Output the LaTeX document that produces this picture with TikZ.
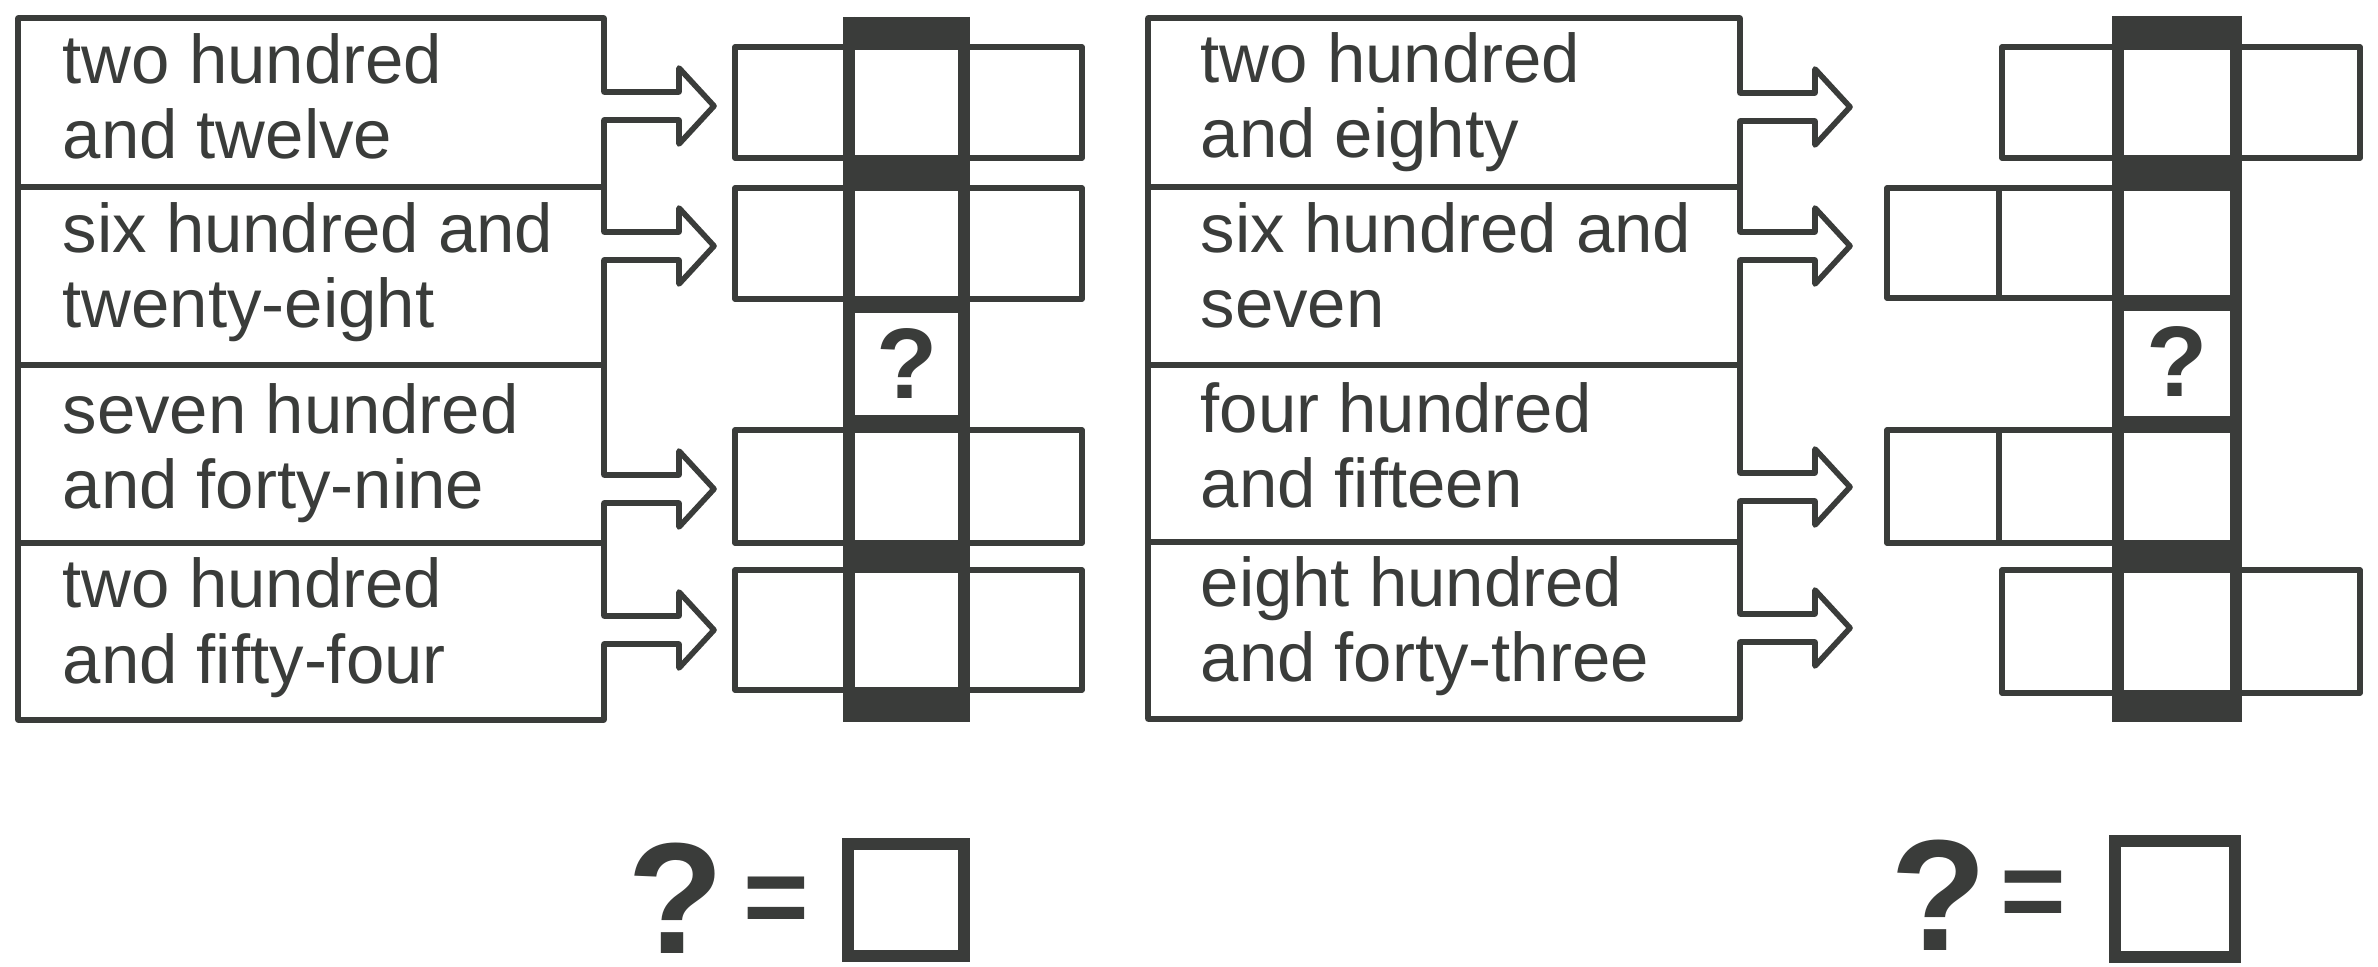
\documentclass[tikz,border=0pt]{standalone}
\usepackage{fontspec}
\setmainfont{Liberation Sans}
\usetikzlibrary{calc}
\definecolor{ink}{RGB}{58,60,58}
\begin{document}
\begin{tikzpicture}[x=0.01cm,y=-0.01cm,
  boxline/.style={draw=ink,line width=1.6pt,line join=round,line cap=round},
  colline/.style={draw=ink,line width=3.4pt},
  lbl/.style={font=\fontsize{19.6}{21.35}\selectfont,align=left,inner sep=0pt,text=ink,anchor=base west},
  qcell/.style={font=\bfseries\fontsize{28.5}{30}\selectfont,text=ink,inner sep=0pt},
  qbig/.style={font=\bfseries\fontsize{45}{48}\selectfont,text=ink,inner sep=0pt},
  eqsign/.style={font=\bfseries\fontsize{32}{34}\selectfont,text=ink,inner sep=0pt},
  ansbox/.style={draw=ink,line width=3.4pt,inner sep=0pt},
  barrow/.style={insert path={-- ($(#1)+(0,-14)$) -- ++(75,0) -- ++(0,-24) -- ++(35,38) -- ++(-35,38) -- ++(0,-24) -- ++(-75,0)}}]
\fill[white] (0,0) rectangle (2378,967);
\useasboundingbox (0,0) rectangle (2378,967);

% ---------------- left panel ----------------
\coordinate (la1) at (604,106);
\coordinate (la2) at (604,246);
\coordinate (la3) at (604,489);
\coordinate (la4) at (604,630);
\draw[boxline] (18,18) -- (604,18) [barrow=la1] [barrow=la2] [barrow=la3] [barrow=la4] -- (604,720) -- (18,720) -- cycle;
\draw[boxline] (18,187) -- (604,187) (18,365) -- (604,365) (18,543) -- (604,543);
\node[lbl] (lt1) at (62,159) {two hundred\\and twelve};
\node[lbl] (lt2) at (62,328) {six hundred and\\twenty-eight};
\node[lbl] (lt3) at (62,509) {seven hundred\\and forty-nine};
\node[lbl] (lt4) at (62,683) {two hundred\\and fifty-four};

\fill[ink] (843,17) rectangle (970,722);
\draw[boxline,fill=white] (735,47) rectangle (1082,158);
\draw[boxline,fill=white] (735,188) rectangle (1082,299);
\fill[white] (843,313) rectangle (970,415);
\draw[boxline,fill=white] (735,430) rectangle (1082,543);
\draw[boxline,fill=white] (735,570) rectangle (1082,690);
\draw[colline] (849,17) -- (849,722) (964,17) -- (964,722);
\node[qcell] (lq) at (907,364) {?};

% ---------------- right panel ----------------
\coordinate (ra1) at (1740,107);
\coordinate (ra2) at (1740,246);
\coordinate (ra3) at (1740,487);
\coordinate (ra4) at (1740,628);
\draw[boxline] (1148,18) -- (1740,18) [barrow=ra1] [barrow=ra2] [barrow=ra3] [barrow=ra4] -- (1740,719) -- (1148,719) -- cycle;
\draw[boxline] (1148,187) -- (1740,187) (1148,365) -- (1740,365) (1148,542) -- (1740,542);
\node[lbl] (rt1) at (1200,158) {two hundred\\and eighty};
\node[lbl] (rt2) at (1200,328) {six hundred and\\seven};
\node[lbl] (rt3) at (1200,508) {four hundred\\and fifteen};
\node[lbl] (rt4) at (1200,682) {eight hundred\\and forty-three};

\fill[ink] (2112,16) rectangle (2242,722);
\draw[boxline,fill=white] (2002,47) rectangle (2360,158);
\draw[boxline,fill=white] (1887,188) rectangle (2236,298);
\draw[boxline] (1999,188) -- (1999,298);
\fill[white] (2112,311) rectangle (2242,416);
\draw[boxline,fill=white] (1887,430) rectangle (2236,543);
\draw[boxline] (1999,430) -- (1999,543);
\draw[boxline,fill=white] (2002,570) rectangle (2360,693);
\draw[colline] (2118,16) -- (2118,722) (2236,16) -- (2236,722);
\node[qcell] (rq) at (2177,362) {?};

% ---------------- answers ----------------
\node[qbig] (q1) at (676,898) {?};
\node[eqsign] (e1) at (776,906) {=};
\node[ansbox,minimum width=1.16cm,minimum height=1.12cm] (b1) at (906,900) {};
\node[qbig] (q2) at (1939,895) {?};
\node[eqsign] (e2) at (2033,900) {=};
\node[ansbox,minimum width=1.20cm,minimum height=1.15cm] (b2) at (2175,899) {};
\end{tikzpicture}
\end{document}
